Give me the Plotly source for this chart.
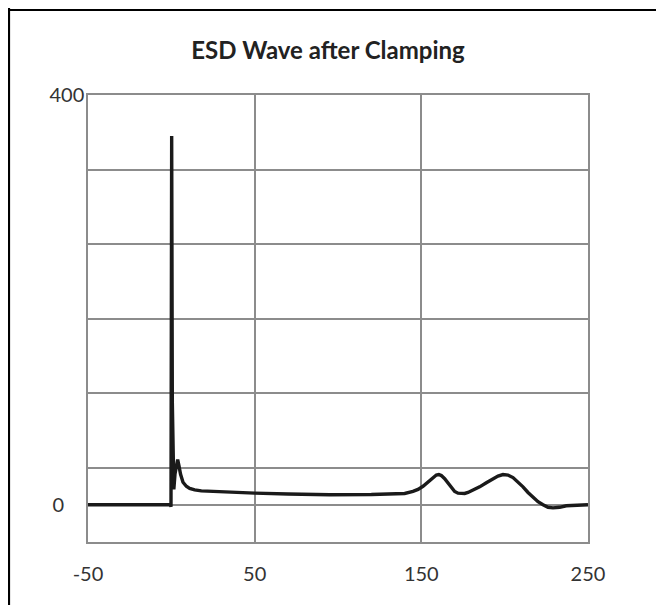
import plotly.graph_objects as go

# ---- data ----
time_ns = [-50, -0.6, -0.2, 0.2, 0.6, 1.0, 1.5, 2.2, 3.0, 3.8, 4.6, 5.5, 7, 9, 11, 14, 18,
           24, 35, 50, 70, 95, 120, 135, 140, 145, 148, 151, 154, 157, 159, 160.5, 162,
           164, 166, 168, 170, 172, 174, 176, 178, 181, 185, 189, 193, 196, 199, 202,
           205, 208, 211, 214, 217, 220, 223, 226, 229, 233, 237, 242, 250]
voltage = [0, 0, -2, 360, 100, 20, 15, 30, 40, 44, 38, 30, 22, 18, 16, 14.5, 13.5,
           13, 12, 11.4, 10.5, 9.8, 10, 10.6, 11, 13, 15, 18, 22.5, 27, 29, 29.5, 28.5,
           25.5, 21, 16.5, 13, 11.3, 10.8, 11, 12, 14, 17.5, 21.5, 25.5, 28, 29.5, 29,
           26.5, 22.5, 17.5, 12, 7, 3, 0, -2.5, -3, -2.5, -1, -0.3, 0]

x_ticks = [-50, 50, 150, 250]
x_tick_labels = ["-50", "50", "150", "250"]
y_grid = [-36.36, 0, 36.36, 109.09, 181.82, 254.55, 327.27, 400]
y_range = [-36.36, 400]
title_text = "ESD Wave after Clamping"

FONT = "Lato"
GRID = "#8c8c8c"
W, H = 648, 597   # page adds an 8px body margin
L, T, PW, PH = 80, 87, 500, 447

fig = go.Figure()
fig.add_trace(go.Scatter(
    x=time_ns, y=voltage, mode="lines",
    line=dict(color="#1a1a1a", width=3.4),
    showlegend=False, hoverinfo="skip",
))
# invisible trace to attach the secondary y axis (for the "0" label)
fig.add_trace(go.Scatter(x=[time_ns[0]], y=[0], yaxis="y2", mode="markers",
                         marker=dict(opacity=0), showlegend=False, hoverinfo="skip"))

def px(xp):
    return (xp - L) / PW

def py(yp):
    return (T + PH - yp) / PH

fig.update_layout(
    width=W, height=H,
    margin=dict(l=L, r=W - L - PW, t=T, b=H - T - PH),
    paper_bgcolor="white", plot_bgcolor="white",
    font=dict(family=FONT, size=20, color="#333333"),
    title=dict(text="<b>" + title_text + "</b>", x=320 / W, xanchor="center",
               y=1 - 43 / H, yanchor="middle", yref="container",
               font=dict(family=FONT, size=24, color="#222222")),
    xaxis=dict(
        range=[-50, 250], tickvals=x_ticks, ticktext=x_tick_labels,
        showgrid=True, gridcolor=GRID, gridwidth=1.5,
        showline=True, linecolor=GRID, linewidth=1.5, mirror=True,
        ticks="outside", ticklen=13, tickcolor="rgba(0,0,0,0)",
        zeroline=False, fixedrange=True,
    ),
    yaxis=dict(
        range=y_range, tickvals=y_grid,
        ticktext=["" if v != 400 else "400" for v in y_grid],
        showgrid=True, gridcolor=GRID, gridwidth=1.5,
        showline=True, linecolor=GRID, linewidth=1.5, mirror=True,
        ticks="", zeroline=False, fixedrange=True, ticklabelstandoff=-2,
    ),
    yaxis2=dict(
        range=y_range, overlaying="y", side="left", tickvals=[0], ticktext=["0"],
        showgrid=False, showline=False, zeroline=False, ticks="",
        ticklabelstandoff=23, fixedrange=True,
    ),
    shapes=[
        dict(type="line", xref="paper", yref="paper",
             x0=px(0), x1=px(W), y0=py(2), y1=py(2),
             line=dict(color="black", width=2.2)),
        dict(type="line", xref="paper", yref="paper",
             x0=px(1), x1=px(1), y0=py(0), y1=py(H),
             line=dict(color="black", width=2.2)),
    ],
)

fig.write_html("out.html")
